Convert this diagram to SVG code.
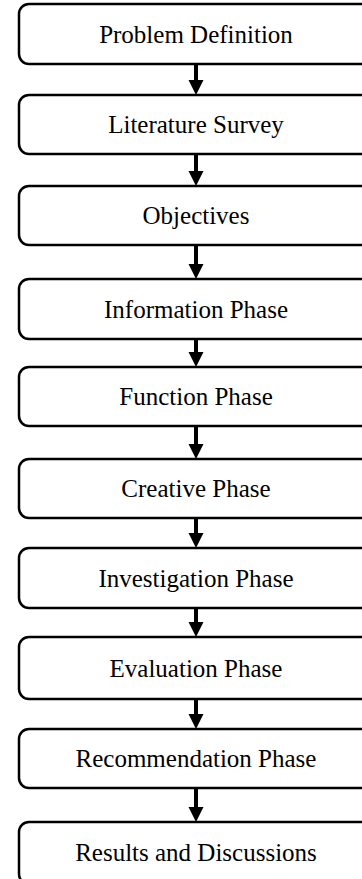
<svg xmlns="http://www.w3.org/2000/svg" width="362" height="879" viewBox="0 0 362 879">
  <defs>
    <style>
      .box { fill: #ffffff; stroke: #000000; stroke-width: 2.5; }
      .label { font-family: "Liberation Serif", "Times New Roman", serif; font-size: 25px; fill: #000000; text-anchor: middle; }
      .shaft { stroke: #000000; stroke-width: 4; fill: none; }
      .head { fill: #000000; }
    </style>
  </defs>
  <rect width="362" height="879" fill="#ffffff"/>

  <!-- process steps -->
  <g id="problem-definition">
    <rect class="box" x="19" y="4" width="354" height="60" rx="10"/>
    <text class="label" x="196" y="42.5">Problem Definition</text>
  </g>
  <g id="literature-survey">
    <rect class="box" x="19" y="95" width="354" height="59" rx="10"/>
    <text class="label" x="196" y="133">Literature Survey</text>
  </g>
  <g id="objectives">
    <rect class="box" x="19" y="186" width="354" height="59" rx="10"/>
    <text class="label" x="196" y="224">Objectives</text>
  </g>
  <g id="information-phase">
    <rect class="box" x="19" y="279" width="354" height="60" rx="10"/>
    <text class="label" x="196" y="317.5">Information Phase</text>
  </g>
  <g id="function-phase">
    <rect class="box" x="19" y="367" width="354" height="59" rx="10"/>
    <text class="label" x="196" y="405">Function Phase</text>
  </g>
  <g id="creative-phase">
    <rect class="box" x="19" y="459" width="354" height="59" rx="10"/>
    <text class="label" x="196" y="497">Creative Phase</text>
  </g>
  <g id="investigation-phase">
    <rect class="box" x="19" y="548" width="354" height="60" rx="10"/>
    <text class="label" x="196" y="586.5">Investigation Phase</text>
  </g>
  <g id="evaluation-phase">
    <rect class="box" x="19" y="637" width="354" height="62" rx="10"/>
    <text class="label" x="196" y="676.5">Evaluation Phase</text>
  </g>
  <g id="recommendation-phase">
    <rect class="box" x="19" y="729" width="354" height="59" rx="10"/>
    <text class="label" x="196" y="767">Recommendation Phase</text>
  </g>
  <g id="results-and-discussions">
    <rect class="box" x="19" y="822" width="354" height="62" rx="10"/>
    <text class="label" x="196" y="861">Results and Discussions</text>
  </g>

  <!-- downward connectors between consecutive steps -->
  <g id="connectors">
    <path class="shaft" d="M196 64 V81"/>
    <path class="head" d="M188.5 80 H203.5 L196 95 Z"/>
    <path class="shaft" d="M196 154 V172"/>
    <path class="head" d="M188.5 171 H203.5 L196 186 Z"/>
    <path class="shaft" d="M196 245 V265"/>
    <path class="head" d="M188.5 264 H203.5 L196 279 Z"/>
    <path class="shaft" d="M196 339 V353"/>
    <path class="head" d="M188.5 352 H203.5 L196 367 Z"/>
    <path class="shaft" d="M196 426 V445"/>
    <path class="head" d="M188.5 444 H203.5 L196 459 Z"/>
    <path class="shaft" d="M196 518 V534"/>
    <path class="head" d="M188.5 533 H203.5 L196 548 Z"/>
    <path class="shaft" d="M196 608 V623"/>
    <path class="head" d="M188.5 622 H203.5 L196 637 Z"/>
    <path class="shaft" d="M196 699 V715"/>
    <path class="head" d="M188.5 714 H203.5 L196 729 Z"/>
    <path class="shaft" d="M196 788 V808"/>
    <path class="head" d="M188.5 807 H203.5 L196 822 Z"/>
  </g>
</svg>
